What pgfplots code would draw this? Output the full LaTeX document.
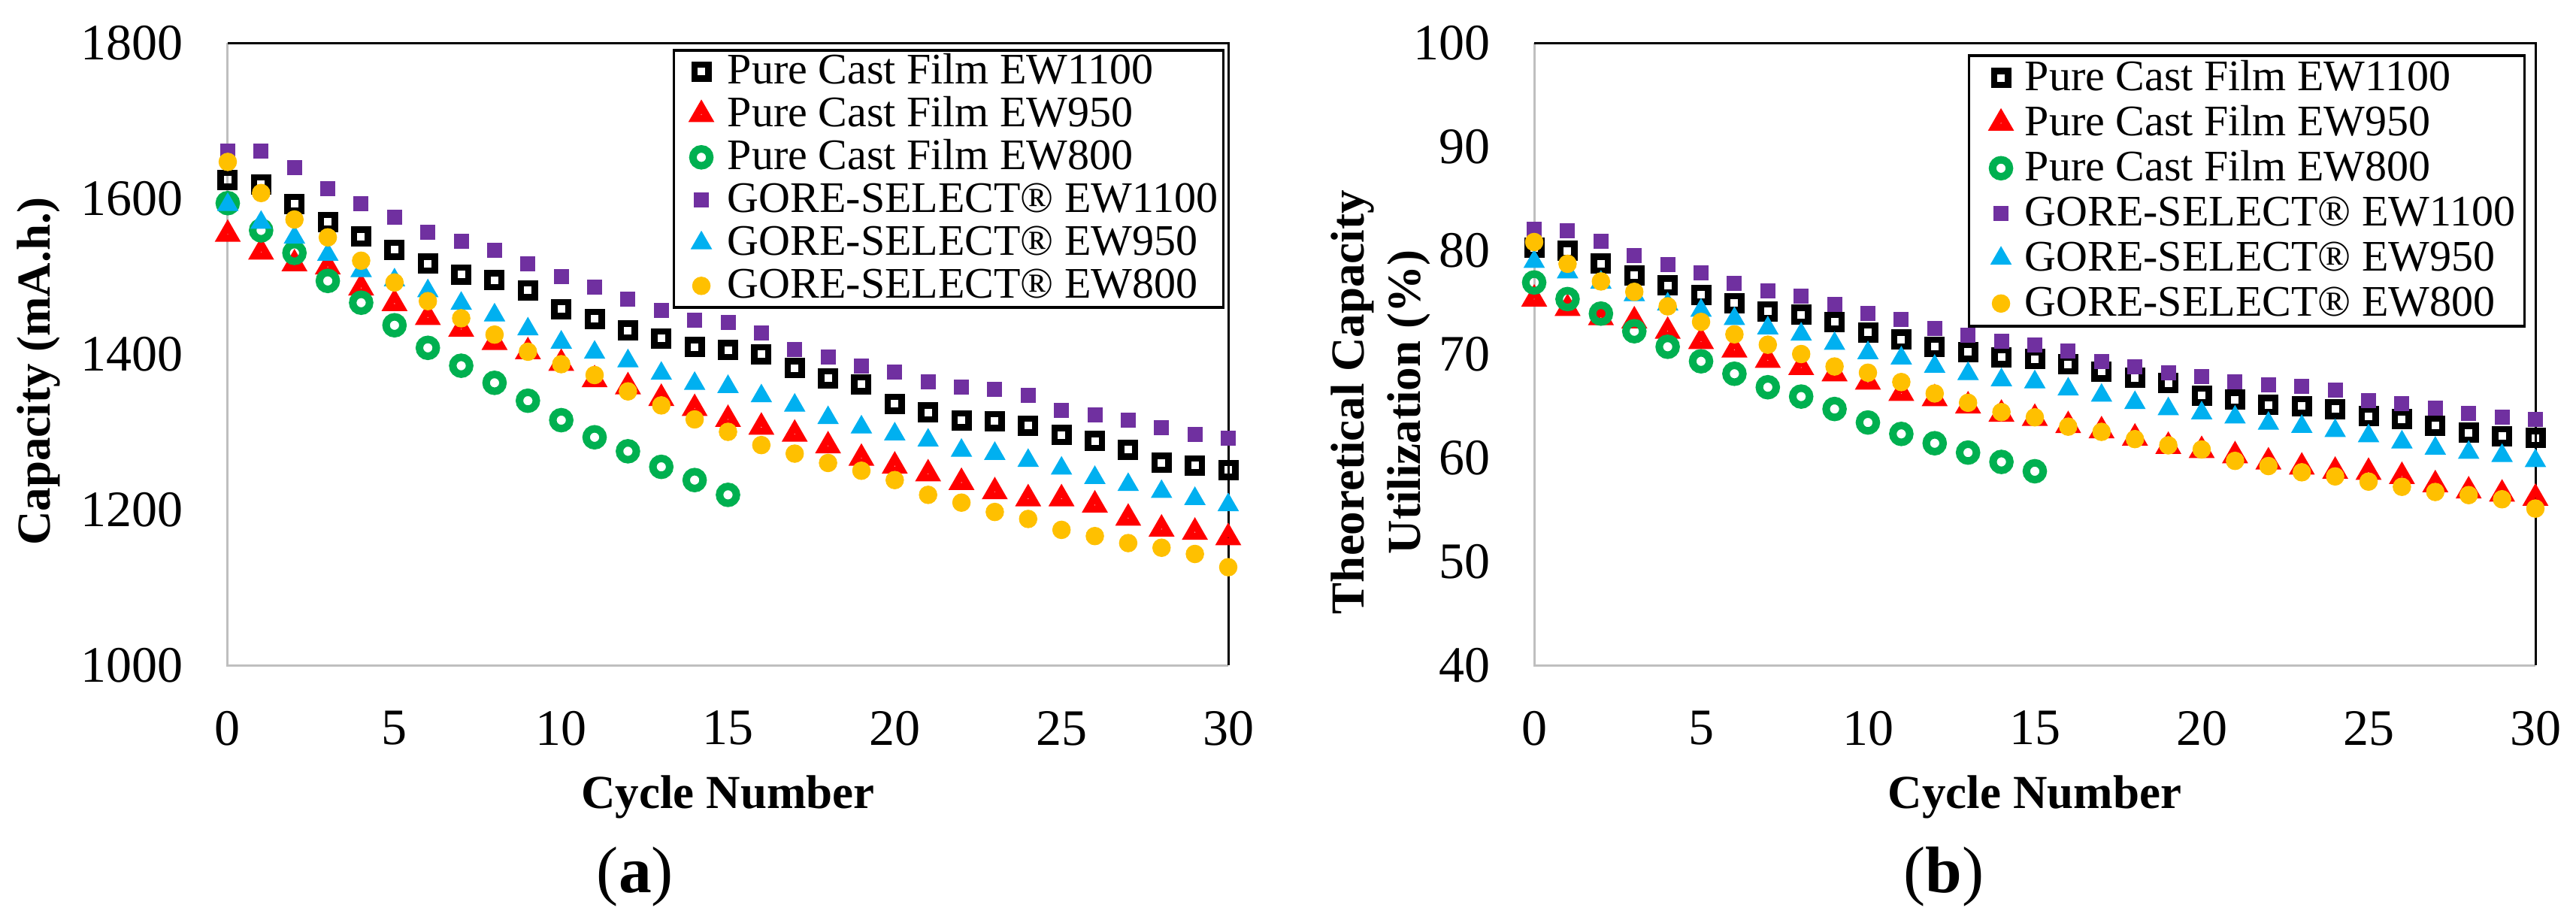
\documentclass[border=0pt]{standalone}
\usepackage{fontspec}
\setmainfont{Liberation Serif}
\usepackage{pgfplots}
\usepackage{pgfplotstable}
\pgfplotsset{compat=1.18}
\definecolor{xlgreen}{HTML}{00B050}
\definecolor{xlpurple}{HTML}{7030A0}
\definecolor{xlblue}{HTML}{00B0F0}
\definecolor{xlorange}{HTML}{FFC000}
\definecolor{xlred}{HTML}{FF0000}
\definecolor{axgray}{HTML}{BFBFBF}

\pgfplotstableread{
c p1100 p950 p800 g1100 g950 g800
0 1624 1554 1594 1661 1592 1647
1 1618 1531 1559 1661 1569 1607
2 1593 1516 1530 1640 1550 1573
3 1570 1512 1494 1613 1528 1550
4 1551 1485 1466 1593 1507 1520
5 1534 1465 1437 1576 1495 1492
6 1516 1447 1408 1557 1481 1468
7 1502 1432 1385 1545 1465 1446
8 1495 1415 1363 1533 1450 1425
9 1482 1403 1340 1516 1432 1403
10 1458 1388 1315 1500 1415 1387
11 1445 1367 1293 1486 1402 1373
12 1430 1358 1275 1471 1391 1352
13 1420 1343 1255 1456 1375 1334
14 1409 1330 1238 1444 1362 1316
15 1405 1316 1219 1441 1358 1300
16 1400 1306 nan 1427 1346 1283
17 1382 1297 nan 1406 1334 1272
18 1369 1282 nan 1396 1318 1260
19 1361 1266 nan 1385 1306 1250
20 1336 1256 nan 1377 1297 1238
21 1325 1246 nan 1364 1289 1219
22 1315 1235 nan 1358 1276 1209
23 1314 1223 nan 1355 1272 1197
24 1308 1214 nan 1347 1263 1188
25 1296 1214 nan 1328 1253 1174
26 1288 1206 nan 1322 1241 1166
27 1277 1189 nan 1315 1232 1157
28 1260 1175 nan 1305 1223 1151
29 1257 1171 nan 1297 1214 1143
30 1251 1164 nan 1292 1206 1126
}\tabA

\pgfplotstableread{
c p1100 p950 p800 g1100 g950 g800
0 80.25 75.3 76.9 82.0 78.9 80.8
1 79.96 74.4 75.3 81.9 77.9 78.7
2 78.7 73.5 73.9 80.9 76.9 77.0
3 77.6 73.2 72.2 79.5 75.7 76.0
4 76.6 72.2 70.7 78.6 74.8 74.6
5 75.7 71.2 69.3 77.8 74.2 73.1
6 74.9 70.4 68.1 76.8 73.4 71.9
7 74.1 69.4 66.8 76.1 72.5 70.9
8 73.8 68.7 65.9 75.6 71.9 70.0
9 73.1 68.1 64.7 74.8 71.0 68.8
10 72.1 67.3 63.4 73.9 70.1 68.2
11 71.4 66.2 62.3 73.3 69.6 67.3
12 70.7 65.7 61.4 72.5 68.8 66.2
13 70.2 65.0 60.5 71.8 68.1 65.3
14 69.7 64.2 59.6 71.2 67.5 64.4
15 69.5 63.8 58.7 70.9 67.3 63.9
16 69.0 63.1 nan 70.3 66.6 63.0
17 68.3 62.6 nan 69.3 66.0 62.5
18 67.7 61.9 nan 68.8 65.3 61.8
19 67.2 61.1 nan 68.2 64.7 61.2
20 66.0 60.7 nan 67.8 64.3 60.8
21 65.6 60.2 nan 67.3 63.9 59.7
22 65.1 59.6 nan 67.0 63.3 59.2
23 65.0 59.1 nan 66.9 63.0 58.6
24 64.7 58.7 nan 66.5 62.6 58.2
25 64.0 58.6 nan 65.5 62.1 57.7
26 63.7 58.2 nan 65.2 61.5 57.2
27 63.1 57.4 nan 64.8 60.9 56.7
28 62.4 56.8 nan 64.3 60.5 56.4
29 62.1 56.5 nan 63.9 60.2 56.0
30 61.9 56.1 nan 63.7 59.7 55.1
}\tabB

\pgfplotsset{
  s1/.style={only marks, mark=square, mark size=1.85pt, mark options={draw=black, fill=white, line width=1.7pt, solid}},
  s2/.style={only marks, mark=triangle, mark size=2.1pt, mark options={draw=xlred, fill=white, line width=1.9pt, solid, miter limit=3}},
  s3/.style={only marks, mark=o, mark size=2.25pt, mark options={draw=xlgreen, fill=white, line width=2pt, solid}},
  s4/.style={only marks, mark=square*, mark size=1.9pt, mark options={draw=xlpurple, fill=xlpurple, line width=0.2pt, solid}},
  s5/.style={only marks, mark=triangle*, mark size=3.1pt, mark options={draw=xlblue, fill=xlblue, line width=0.2pt, solid}},
  s6/.style={only marks, mark=*, mark size=2.35pt, mark options={draw=xlorange, fill=xlorange, line width=0.2pt, solid}},
  limgA/.style={legend image code/.code={\draw[##1] plot coordinates {(0pt,0pt)}; \path (-5.6pt,0pt) (6.6pt,0pt);}},
  limgB/.style={legend image code/.code={\draw[##1] plot coordinates {(0pt,0pt)}; \path (-5.8pt,0pt) (6pt,0pt);}},
  panel/.style={
    scale only axis, height=165.6pt,
    xmin=0, xmax=30, xtick={0,5,...,30},
    clip=false, major tick length=0pt, axis line style={draw=none},
    /pgf/number format/assume math mode=true,
    /pgf/number format/1000 sep={},
    tick label style={font=\fontsize{13.6}{13.6}\selectfont, inner sep=0pt},
    xticklabel style={anchor=north}, yticklabel style={anchor=east},
    xticklabel shift=12pt, yticklabel shift=11.6pt,
    xlabel style={at={(axis description cs:0.5,-0.2295)}, anchor=base, font=\bfseries\fontsize{12.6}{15}\selectfont},
    ylabel style={anchor=center, align=center, font=\bfseries\fontsize{12.6}{15}\selectfont},
    legend cell align=left,
  },
}

\begin{document}
\begin{tikzpicture}
\path[use as bounding box] (0,0) rectangle (685.4pt,244.6pt);

\begin{axis}[panel, width=266.2pt, at={(60.6pt,67.6pt)}, anchor=south west,
  ymin=1000, ymax=1800, ytick={1000,1200,...,1800},
  xlabel={Cycle Number}, ylabel={Capacity (mA.h.)},
  ylabel style={at={(axis description cs:-0.1890,0.4722)}},
  legend style={at={(axis description cs:0.99625,0.99034)}, anchor=north east,
    draw=black, line width=0.7pt, fill=white, inner xsep=1.4pt, inner ysep=0pt, row sep=0pt,
    font=\fontsize{11.6}{11.6}\selectfont,
    nodes={inner sep=0pt, text height=9pt, text depth=2.4pt}},
]
\draw[axgray, line width=0.6pt] (rel axis cs:0,1) -- (rel axis cs:0,0) -- (rel axis cs:1,0);
\draw[black, line width=0.6pt] (rel axis cs:0,1) -- (rel axis cs:1,1) -- (rel axis cs:1,0);
\addplot[s1,limgA] table[x=c, y=p1100] {\tabA};
\addlegendentry{Pure Cast Film EW1100}
\addplot[s2,limgA] table[x=c, y=p950] {\tabA};
\addlegendentry{Pure Cast Film EW950}
\addplot[s3,limgA] table[x=c, y=p800] {\tabA};
\addlegendentry{Pure Cast Film EW800}
\addplot[s4,limgA] table[x=c, y=g1100] {\tabA};
\addlegendentry{GORE-SELECT® EW1100}
\addplot[s5,limgA] table[x=c, y=g950] {\tabA};
\addlegendentry{GORE-SELECT® EW950}
\addplot[s6,limgA] table[x=c, y=g800] {\tabA};
\addlegendentry{GORE-SELECT® EW800}
\end{axis}

\begin{axis}[panel, width=266.4pt, at={(408.2pt,67.6pt)}, anchor=south west,
  ymin=40, ymax=100, ytick={40,50,...,100},
  xlabel={Cycle Number}, ylabel={Theoretical Capacity\\Utilization (\%)},
  ylabel style={at={(axis description cs:-0.1532,0.4227)}},
  legend style={at={(axis description cs:0.99024,0.98188)}, anchor=north east,
    draw=black, line width=0.7pt, fill=white, inner xsep=2.4pt, inner ysep=0pt, row sep=0pt,
    font=\fontsize{11.6}{11.6}\selectfont,
    nodes={inner sep=0pt, text height=9.3pt, text depth=2.7pt}},
]
\draw[axgray, line width=0.6pt] (rel axis cs:0,1) -- (rel axis cs:0,0) -- (rel axis cs:1,0);
\draw[black, line width=0.6pt] (rel axis cs:0,1) -- (rel axis cs:1,1) -- (rel axis cs:1,0);
\addplot[s1,limgB] table[x=c, y=p1100] {\tabB};
\addlegendentry{Pure Cast Film EW1100}
\addplot[s2,limgB] table[x=c, y=p950] {\tabB};
\addlegendentry{Pure Cast Film EW950}
\addplot[s3,limgB] table[x=c, y=p800] {\tabB};
\addlegendentry{Pure Cast Film EW800}
\addplot[s4,limgB] table[x=c, y=g1100] {\tabB};
\addlegendentry{GORE-SELECT® EW1100}
\addplot[s5,limgB] table[x=c, y=g950] {\tabB};
\addlegendentry{GORE-SELECT® EW950}
\addplot[s6,limgB] table[x=c, y=g800] {\tabB};
\addlegendentry{GORE-SELECT® EW800}
\end{axis}

\node[anchor=base, font=\fontsize{17.5}{17.5}\selectfont] at (169pt,7.2pt) {(\textbf{a})};
\node[anchor=base, font=\fontsize{17.5}{17.5}\selectfont] at (517.2pt,7.2pt) {(\textbf{b})};
\end{tikzpicture}
\end{document}
